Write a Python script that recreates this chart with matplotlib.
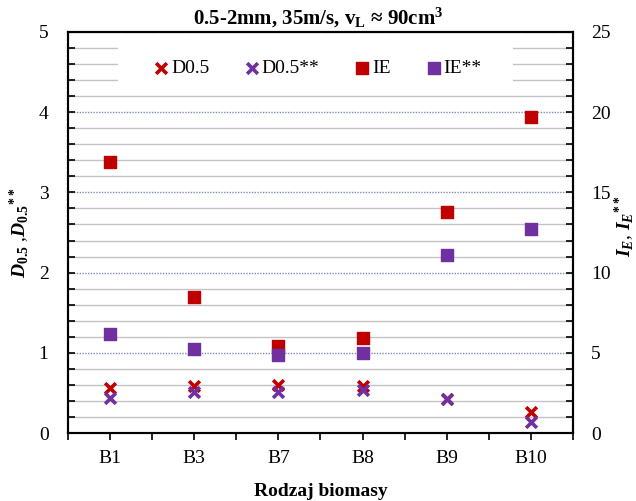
import matplotlib
matplotlib.use("Agg")
import matplotlib.pyplot as plt
from matplotlib.ticker import MultipleLocator, FixedLocator
from matplotlib.patches import Rectangle

categories = ["B1", "B3", "B7", "B8", "B9", "B10"]
d05 = [0.56, 0.59, 0.60, 0.59, 0.43, 0.26]
d05_ss = [0.44, 0.51, 0.51, 0.54, 0.42, 0.14]
ie = [16.9, 8.5, 5.4, 5.9, 13.8, 19.7]
ie_ss = [6.2, 5.25, 4.85, 5.0, 11.1, 12.7]

plt.rcParams['font.family'] = ['Liberation Serif', 'DejaVu Serif']
plt.rcParams['mathtext.fontset'] = 'custom'
plt.rcParams['mathtext.rm'] = 'Liberation Serif:bold'
plt.rcParams['mathtext.it'] = 'Liberation Serif:bold:italic'
plt.rcParams['mathtext.bf'] = 'Liberation Serif:bold'

RED = '#C00000'
PURPLE = '#7030A0'
FS = 14

fig = plt.figure(figsize=(6.36, 5.01), dpi=100)
ax = fig.add_axes([68/636, 1-433/501, (573-68)/636, (433-32)/501])
ax2 = ax.twinx()

x = list(range(len(categories)))

ax.set_xlim(-0.5, len(categories)-0.5)
ax.set_ylim(0, 5)
ax2.set_ylim(0, 25)

# gridlines
ax.yaxis.set_major_locator(MultipleLocator(1))
ax.yaxis.set_minor_locator(MultipleLocator(0.2))
ax2.yaxis.set_major_locator(MultipleLocator(5))
ax2.yaxis.set_minor_locator(MultipleLocator(1))
ax.grid(which='minor', axis='y', color='#C3C3C3', linewidth=1.0)
ax.grid(which='major', axis='y', color='#7D8DB0', linewidth=1.0, linestyle=(0, (1, 1)))
ax.set_axisbelow(True)

ax.set_xticks(x)
ax.set_xticklabels(categories, fontsize=FS)
ax.xaxis.set_minor_locator(FixedLocator([i - 0.5 for i in range(len(categories)+1)]))
ax.tick_params(axis='x', which='both', direction='out', length=5, width=1.2, pad=7)
ax.tick_params(axis='y', which='both', direction='in', length=5, width=1.2, labelsize=FS, pad=14)
ax2.tick_params(axis='y', which='both', direction='in', length=5, width=1.2, labelsize=FS, pad=13)

for a in (ax, ax2):
    for s in a.spines.values():
        s.set_linewidth(1.5)

# white backing behind the legend (hides gridlines there)
ax.add_patch(Rectangle((118/636, 1-90/501), (513-118)/636, 46/501,
                       transform=fig.transFigure, facecolor='white',
                       edgecolor='none', zorder=1))

h1 = ax.scatter(x, d05, marker='x', s=60, color=RED, linewidths=2.6, zorder=3, label='D0.5')
h2 = ax.scatter(x, d05_ss, marker='x', s=60, color=PURPLE, linewidths=2.6, zorder=3, label='D0.5**')
h3 = ax2.scatter(x, ie, marker='s', s=80, color=RED, zorder=3, label='IE')
h4 = ax2.scatter(x, ie_ss, marker='s', s=80, color=PURPLE, zorder=3, label='IE**')

leg = ax2.legend(handles=[h1, h2, h3, h4], ncol=4, loc='center',
                 bbox_to_anchor=(0.5007, 1-68/501), bbox_transform=fig.transFigure,
                 fontsize=FS, frameon=False, handlelength=0.6,
                 handletextpad=0.2, columnspacing=1.9, scatterpoints=1,
                 borderpad=0.6)

fig.text(0.5, 1-18/501, r"0.5-2mm, 35m/s, v$_\mathrm{L}$ ≈ 90cm$^\mathrm{3}$",
         ha='center', va='center', fontsize=15, fontweight='bold')
ax.set_xlabel("Rodzaj biomasy", fontsize=FS, fontweight='bold', labelpad=12)
ax.set_ylabel(r"$\mathit{D_{0.5}}$ ,$\mathit{D_{0.5}}^{**}$", fontsize=FS, labelpad=5)
fig.text(625/636, 1-226/501, r"$\mathit{I_E}$, $\mathit{I_E}^{**}$", fontsize=FS,
         rotation=90, ha='center', va='center')

fig.savefig("out.png", dpi=100)
